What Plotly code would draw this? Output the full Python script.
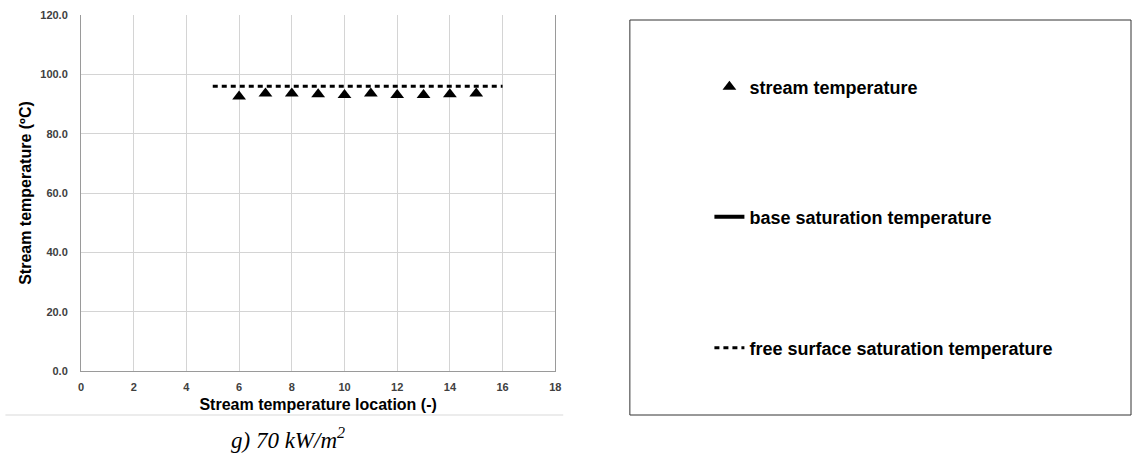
import plotly.graph_objects as go

# Stream temperature readings at each measurement location
locations = [6, 7, 8, 9, 10, 11, 12, 13, 14, 15]
stream_temp = [92.5, 93.5, 93.5, 93.3, 93.0, 93.5, 93.0, 93.0, 93.3, 93.5]

# Free surface saturation temperature across the measured span
sat_x = [5, 16]
free_surface_sat = [96.0, 96.0]

# Base saturation temperature (no readings plotted for this heat flux)
base_x = [None]
base_sat = [None]

x_ticks = [0, 2, 4, 6, 8, 10, 12, 14, 16, 18]
y_ticks = [0, 20, 40, 60, 80, 100, 120]

FONT = "Liberation Sans, Arial, sans-serif"
W, H = 1138, 454
ML, MT, MB = 81, 15, 83
plot_w = W - ML
plot_h = H - MT - MB


def px_x(p):
    return (p - ML) / plot_w


def px_y(p):
    return (H - MB - p) / plot_h


fig = go.Figure()

fig.add_trace(go.Scatter(
    x=locations, y=stream_temp, mode="markers",
    name="<b>stream temperature</b>",
    marker=dict(symbol="triangle-up", size=12, color="black"),
    legend="legend", showlegend=True,
))
fig.add_trace(go.Scatter(
    x=base_x, y=base_sat, mode="lines",
    name="<b>base saturation temperature</b>",
    line=dict(color="black", width=4),
    legend="legend2", showlegend=True,
))
fig.add_trace(go.Scatter(
    x=sat_x, y=free_surface_sat, mode="lines",
    name="<b>free surface saturation temperature</b>",
    line=dict(color="black", width=3, dash="5px,4px"),
    legend="legend3", showlegend=True,
))

legend_common = dict(
    font=dict(family=FONT, size=18, color="black"),
    bgcolor="rgba(0,0,0,0)",
    borderwidth=0,
    xanchor="left", yanchor="middle",
    visible=True,
)

fig.update_layout(
    width=W, height=H,
    margin=dict(l=ML, r=0, t=MT, b=MB),
    paper_bgcolor="white", plot_bgcolor="white",
    font=dict(family=FONT),
    showlegend=True,
    legend=dict(x=px_x(713), y=px_y(87), **legend_common),
    legend2=dict(x=px_x(713), y=px_y(217), **legend_common),
    legend3=dict(x=px_x(713), y=px_y(348), **legend_common),
    xaxis=dict(
        domain=[0, (558 - ML) / plot_w],
        range=[0, 18], tickvals=x_ticks,
        showgrid=True, gridcolor="#d4d4d4", gridwidth=1,
        showline=True, linecolor="#9a9a9a", linewidth=1,
        zeroline=False,
        tickfont=dict(family=FONT, size=11, color="#404040", weight="bold"),
        ticklabelstandoff=6,
        title=dict(text="<b>Stream temperature location (-)</b>",
                   font=dict(family=FONT, size=16, color="black"),
                   standoff=6),
    ),
    yaxis=dict(
        range=[0, 120], tickvals=y_ticks, tickformat=".1f",
        showgrid=True, gridcolor="#d4d4d4", gridwidth=1,
        showline=True, linecolor="#9a9a9a", linewidth=1, mirror=True,
        zeroline=False,
        tickfont=dict(family=FONT, size=11, color="#404040", weight="bold"),
        ticklabelstandoff=10,
        title=dict(text="<b>Stream temperature (ºC)</b>",
                   font=dict(family=FONT, size=16, color="black"),
                   standoff=4),
    ),
    shapes=[
        # legend frame
        dict(type="rect", xref="paper", yref="paper",
             x0=px_x(633), x1=px_x(1137), y0=px_y(415), y1=px_y(20),
             line=dict(color="#333333", width=1), fillcolor="rgba(0,0,0,0)"),
        # separator under the chart
        dict(type="line", xref="paper", yref="paper",
             x0=px_x(5), x1=px_x(566), y0=px_y(415), y1=px_y(415),
             line=dict(color="#d9d9d9", width=1)),
    ],
    annotations=[
        dict(text="<i>g) 70 kW/m<sup>2</sup></i>",
             xref="paper", yref="paper", x=px_x(289), y=px_y(438),
             xanchor="center", yanchor="middle", showarrow=False,
             font=dict(family="Liberation Serif, Times New Roman, serif",
                       size=23, color="black")),
    ],
)

fig.write_html("out.html")
